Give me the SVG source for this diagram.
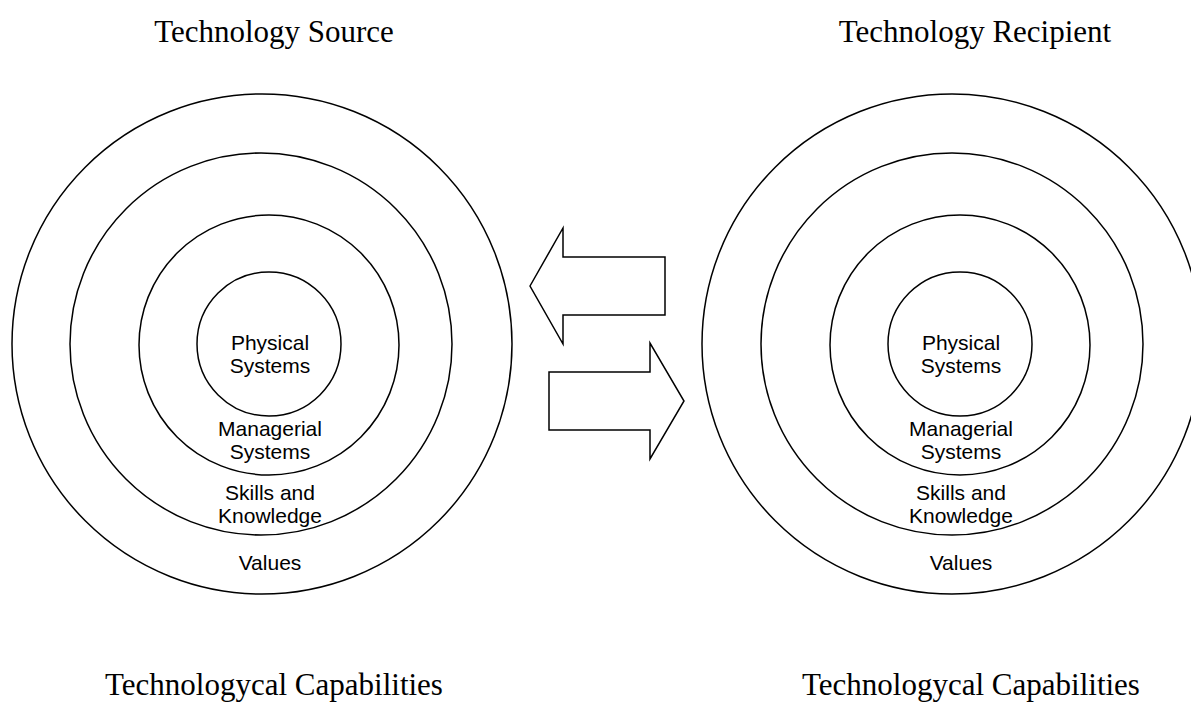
<svg xmlns="http://www.w3.org/2000/svg" width="1191" height="708" viewBox="0 0 1191 708">
<style>
.ring{fill:none;stroke:#000;stroke-width:1.5}
.arrow{fill:#fff;stroke:#000;stroke-width:1.5;stroke-linejoin:miter}
.lbl{font-family:"Liberation Sans",Arial,sans-serif;font-size:21px;text-anchor:middle;fill:#000}
.title{font-family:"Liberation Serif","Times New Roman",serif;font-size:31px;text-anchor:middle;fill:#000}
</style>
<rect width="1191" height="708" fill="#fff"/>
<g id="title-source"><text class="title" x="274" y="42">Technology Source</text></g>
<g id="title-recipient"><text class="title" x="975" y="42">Technology Recipient</text></g>
<g id="source">
  <g id="source-values"><circle class="ring" cx="262" cy="344" r="250"/><text class="lbl" x="270" y="570">Values</text></g>
  <g id="source-skills"><circle class="ring" cx="261" cy="344" r="191"/><text class="lbl" x="270" y="500">Skills and</text><text class="lbl" x="270" y="523">Knowledge</text></g>
  <g id="source-managerial"><circle class="ring" cx="269" cy="345" r="130"/><text class="lbl" x="270" y="436">Managerial</text><text class="lbl" x="270" y="459">Systems</text></g>
  <g id="source-physical"><circle class="ring" cx="269" cy="344" r="72"/><text class="lbl" x="270" y="350">Physical</text><text class="lbl" x="270" y="373">Systems</text></g>
</g>
<g id="recipient">
  <g id="recipient-values"><circle class="ring" cx="952" cy="344" r="250"/><text class="lbl" x="961" y="570">Values</text></g>
  <g id="recipient-skills"><circle class="ring" cx="952" cy="344" r="191"/><text class="lbl" x="961" y="500">Skills and</text><text class="lbl" x="961" y="523">Knowledge</text></g>
  <g id="recipient-managerial"><circle class="ring" cx="960" cy="345" r="130"/><text class="lbl" x="961" y="436">Managerial</text><text class="lbl" x="961" y="459">Systems</text></g>
  <g id="recipient-physical"><circle class="ring" cx="960" cy="344" r="72"/><text class="lbl" x="961" y="350">Physical</text><text class="lbl" x="961" y="373">Systems</text></g>
</g>
<g id="connectors">
  <path id="arrow-to-source" class="arrow" d="M530,286 L563,228 L563,257 L665,257 L665,315 L563,315 L563,344 Z"/>
  <path id="arrow-to-recipient" class="arrow" d="M549,372 L650,372 L650,343 L684,401 L650,459 L650,430 L549,430 Z"/>
</g>
<g id="caption-source"><text class="title" x="274" y="695">Technologycal Capabilities</text></g>
<g id="caption-recipient"><text class="title" x="971" y="695">Technologycal Capabilities</text></g>
</svg>
